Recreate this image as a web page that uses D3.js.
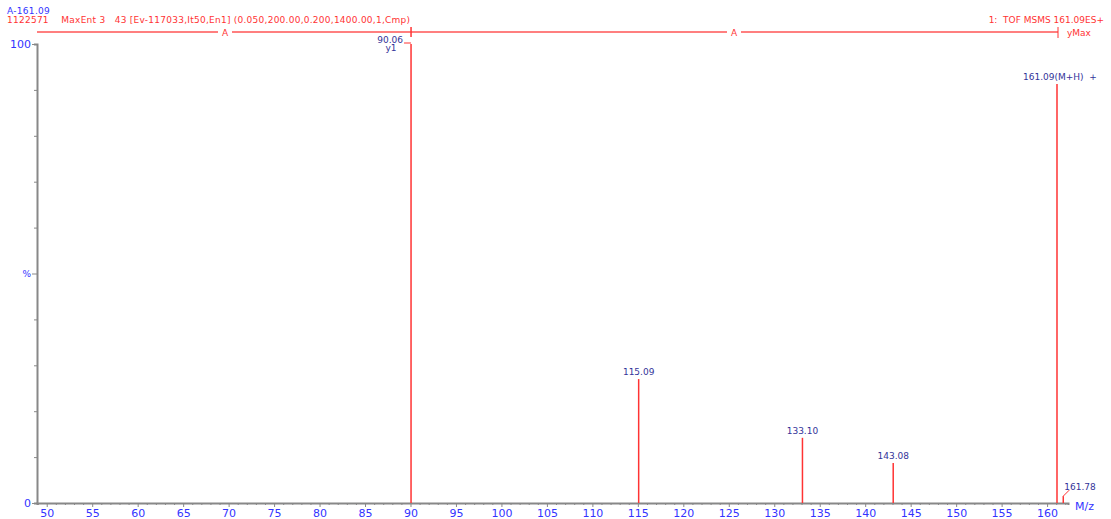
<!DOCTYPE html>
<html>
<head>
<meta charset="utf-8">
<script src="https://cdn.jsdelivr.net/npm/d3@7"></script>
<style>
  body { margin: 0; background: #fff; }
  svg { display: block; }
  text { font-family: "DejaVu Sans", sans-serif; }
</style>
</head>
<body>
<div class="container"></div>
<script>
const w = 1111;
const h = 519;

// spectrum data
const mzValues = [90.06, 115.09, 133.10, 143.08, 161.09, 161.78];
const intensities = [100, 27.0, 14.2, 8.7, 91.3, 1.5];
const peakLabels = ['90.06', '115.09', '133.10', '143.08', '161.09(M+H)  +', '161.78'];
const xTickLabels = [50, 55, 60, 65, 70, 75, 80, 85, 90, 95, 100, 105, 110, 115, 120, 125, 130, 135, 140, 145, 150, 155, 160];
const yTickValues = [0, 10, 20, 30, 40, 50, 60, 70, 80, 90, 100];

const red = '#ff3333';
const navy = '#333399';
const blue = '#3333ff';

const svg = d3.select('.container')
    .append('svg')
    .attr('width', w)
    .attr('height', h);

const xScale = d3.scaleLinear().domain([48.93, 162.3]).range([37, 1068]);
const yScale = d3.scaleLinear().domain([0, 100]).range([503, 44]);

// header
svg.append('text').attr('x', 7).attr('y', 14).attr('fill', blue)
    .style('font-size', '9px').style('letter-spacing', '0.3px').text('A-161.09');
svg.append('text').attr('x', 7).attr('y', 23).attr('fill', red)
    .style('font-size', '9px').style('letter-spacing', '0.25px').attr('xml:space', 'preserve')
    .text('1122571    MaxEnt 3   43 [Ev-117033,It50,En1] (0.050,200.00,0.200,1400.00,1,Cmp)');
svg.append('text').attr('x', 1104).attr('y', 23).attr('fill', red)
    .attr('text-anchor', 'end').style('font-size', '9px').attr('xml:space', 'preserve')
    .text('1:  TOF MSMS 161.09ES+');

const headY = 32;
const segments = [[37, 218], [232, 727], [741, 1058]];
segments.forEach(s => {
    svg.append('line').attr('x1', s[0]).attr('x2', s[1]).attr('y1', headY).attr('y2', headY)
        .attr('stroke', '#ff5555').attr('stroke-width', 1.3);
});
[225, 734].forEach(x => {
    svg.append('text').attr('x', x).attr('y', headY + 3.5).attr('text-anchor', 'middle')
        .attr('fill', red).style('font-size', '9px').text('A');
});
svg.append('line').attr('x1', 1058).attr('x2', 1058).attr('y1', 27).attr('y2', 38)
    .attr('stroke', red);
svg.append('text').attr('x', 1067).attr('y', 36).attr('fill', red)
    .style('font-size', '9px').text('yMax');

// axes
const xTicks = d3.range(49, 163);
const xAxis = d3.axisBottom(xScale)
    .tickValues(xTicks)
    .tickSize(2)
    .tickFormat(d => xTickLabels.includes(d) ? d : '');

const gx = svg.append('g')
    .attr('id', 'x-axis')
    .attr('transform', `translate(0, ${yScale(0)})`)
    .call(xAxis);
gx.select('.domain').attr('stroke', '#888').attr('stroke-width', 2);
gx.selectAll('.tick line')
    .attr('stroke', '#888')
    .attr('y2', d => d % 5 === 0 ? 4 : 2);
gx.selectAll('.tick text')
    .attr('fill', blue)
    .attr('y', 6)
    .style('font-size', '11px');

const yAxis = d3.axisLeft(yScale)
    .tickValues(yTickValues)
    .tickSize(3)
    .tickPadding(2)
    .tickFormat(d => d === 100 ? '100' : d === 0 ? '0' : d === 50 ? '%' : '');

const gy = svg.append('g')
    .attr('id', 'y-axis')
    .attr('transform', `translate(37, 0)`)
    .call(yAxis);
gy.select('.domain').attr('stroke', '#888').attr('stroke-width', 2);
gy.selectAll('.tick line')
    .attr('stroke', '#888')
    .attr('x2', d => d % 50 === 0 ? -5 : -3);
gy.selectAll('.tick text')
    .attr('fill', blue)
    .attr('x', d => d % 50 === 0 ? -6 : -4)
    .style('font-size', d => d === 50 ? '9px' : '11px');

svg.append('text').attr('x', 1075).attr('y', 510).attr('fill', blue)
    .style('font-size', '11px').text('M/z');

// peaks
const peaks = mzValues.map((m, i) => ({ mz: m, val: intensities[i], label: peakLabels[i] }));

svg.selectAll('line.peak')
    .data(peaks)
    .enter()
    .append('line')
    .attr('class', 'peak')
    .attr('x1', d => xScale(d.mz))
    .attr('x2', d => xScale(d.mz))
    .attr('y1', yScale(0))
    .attr('y2', d => yScale(d.val))
    .attr('stroke', red)
    .attr('stroke-width', 1.5);

// base peak marker above the header line
const bx = xScale(mzValues[0]);
svg.append('line').attr('x1', bx).attr('x2', bx).attr('y1', 27).attr('y2', 37)
    .attr('stroke', red).attr('stroke-width', 1.5);
svg.append('line').attr('x1', bx - 7).attr('x2', bx).attr('y1', 43).attr('y2', 43)
    .attr('stroke', red);
svg.append('text').attr('x', bx - 8).attr('y', 43).attr('text-anchor', 'end')
    .attr('fill', navy).style('font-size', '9px').text(peakLabels[0]);
svg.append('text').attr('x', bx - 20).attr('y', 51).attr('text-anchor', 'middle')
    .attr('fill', navy).style('font-size', '9px').text('y1');

// centred labels over the middle peaks
svg.selectAll('text.plabel')
    .data(peaks.slice(1, 5))
    .enter()
    .append('text')
    .attr('class', 'plabel')
    .attr('x', (d, i) => i === 3 ? xScale(d.mz) - 34 : xScale(d.mz))
    .attr('y', d => yScale(d.val) - 4)
    .attr('text-anchor', (d, i) => i === 3 ? 'start' : 'middle')
    .attr('xml:space', 'preserve')
    .attr('fill', navy)
    .style('font-size', '9px')
    .text(d => d.label);

// small peak with leader
const sp = peaks[5];
const sx = xScale(sp.mz);
svg.append('line').attr('x1', sx).attr('x2', sx + 6).attr('y1', yScale(sp.val)).attr('y2', yScale(sp.val) - 6)
    .attr('stroke', red);
svg.append('text').attr('x', sx + 1).attr('y', yScale(sp.val) - 6)
    .attr('fill', navy).style('font-size', '9px').text(sp.label);
</script>
</body>
</html>
